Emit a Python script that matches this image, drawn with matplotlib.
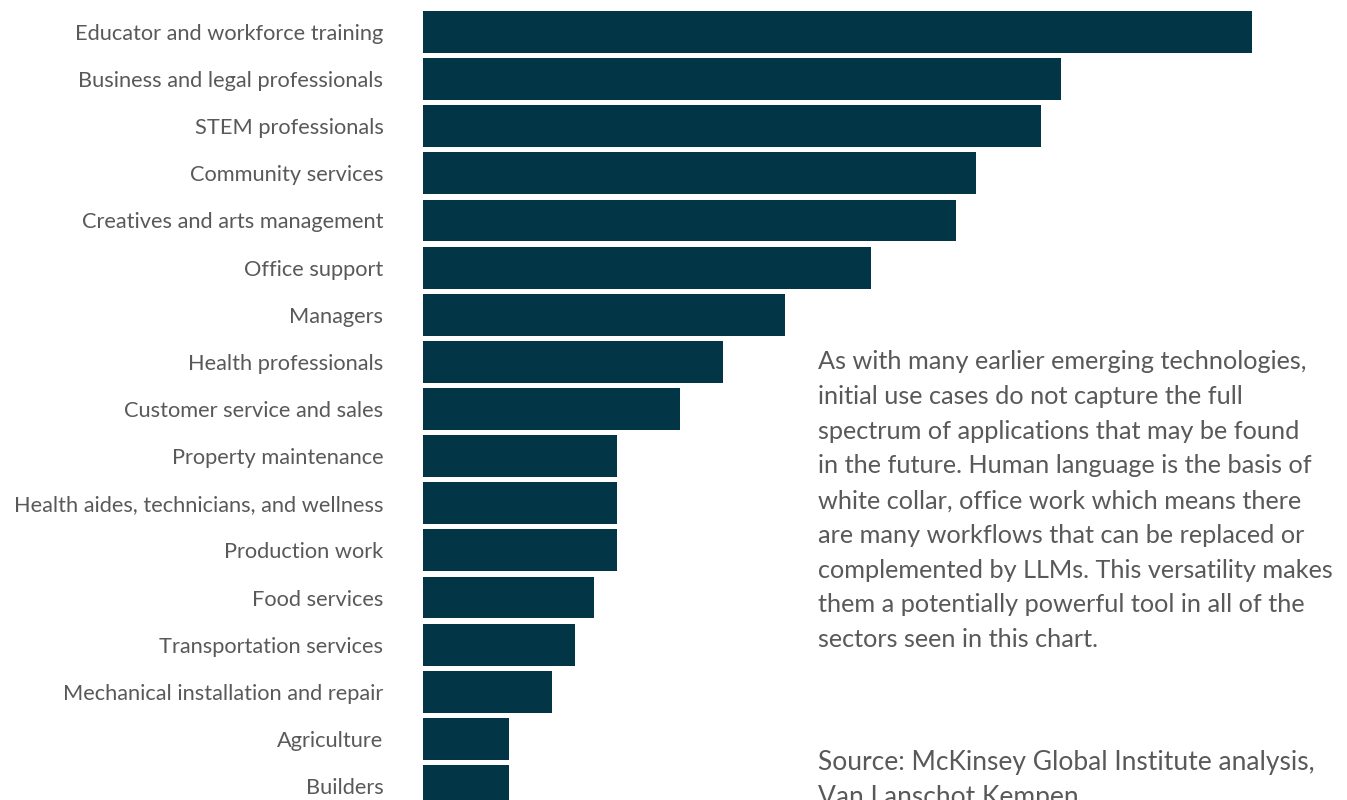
import matplotlib.pyplot as plt

plt.rcParams['font.family'] = ['Lato', 'DejaVu Sans']

categories = [
    'Educator and workforce training',
    'Business and legal professionals',
    'STEM professionals',
    'Community services',
    'Creatives and arts management',
    'Office support',
    'Managers',
    'Health professionals',
    'Customer service and sales',
    'Property maintenance',
    'Health aides, technicians, and wellness',
    'Production work',
    'Food services',
    'Transportation services',
    'Mechanical installation and repair',
    'Agriculture',
    'Builders',
]
# relative bar lengths
values = [829, 638, 618, 553, 533, 448, 362, 300, 257, 194, 194, 194, 171, 152, 129, 86, 86]

note = ("As with many earlier emerging technologies,\n"
        "initial use cases do not capture the full\n"
        "spectrum of applications that may be found\n"
        "in the future. Human language is the basis of\n"
        "white collar, office work which means there\n"
        "are many workflows that can be replaced or\n"
        "complemented by LLMs. This versatility makes\n"
        "them a potentially powerful tool in all of the\n"
        "sectors seen in this chart.")
source = "Source: McKinsey Global Institute analysis,\nVan Lanschot Kempen"

bar_color = '#023646'
text_color = '#595959'

fig = plt.figure(figsize=(13.47, 8), dpi=100)
ax = fig.add_axes([423 / 1347, 0, 1 - 423 / 1347, 1])

pos = range(len(categories))
ax.barh(pos, values, height=0.89, color=bar_color)
ax.set_xlim(0, 924)
ax.set_ylim(16.297, -0.679)

ax.set_yticks(list(pos))
ax.set_yticklabels(categories, fontsize=15.7, color=text_color)
ax.tick_params(axis='y', length=0, pad=28.5)
ax.set_xticks([])
for s in ax.spines.values():
    s.set_visible(False)

fig.text(818 / 1347, 1 - 350 / 800, note, fontsize=18.2, color=text_color,
         va='top', ha='left', linespacing=1.62)
# the second source line runs off the bottom edge, as in the original
fig.text(818 / 1347, 1 - 750 / 800, source, fontsize=19, color=text_color,
         va='top', ha='left', linespacing=1.5)

fig.savefig('out.png', dpi=100)
